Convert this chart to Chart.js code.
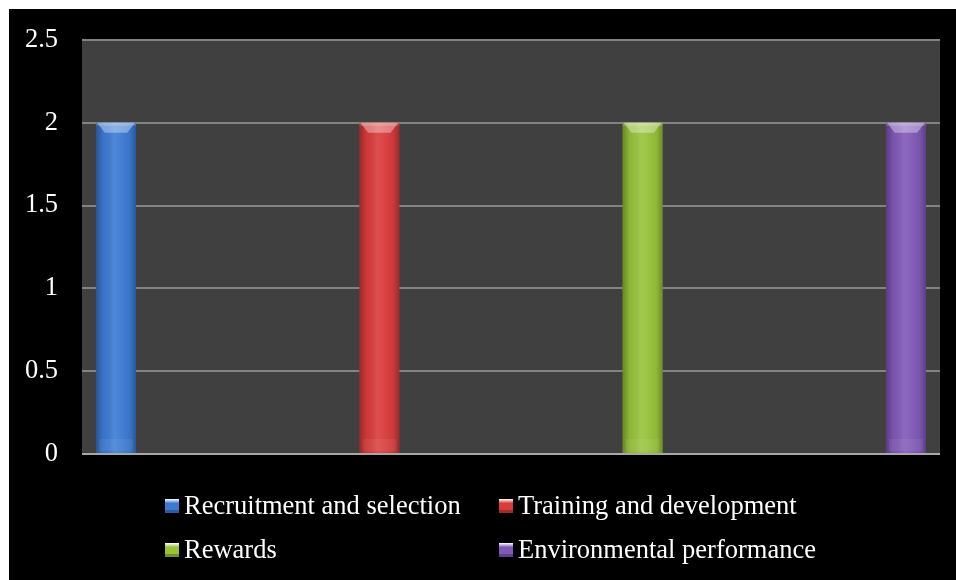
<!DOCTYPE html>
<html>
<head>
<meta charset="utf-8">
<script src="https://cdn.jsdelivr.net/npm/chart.js@4/dist/chart.umd.min.js"></script>
<style>
  html, body { margin: 0; padding: 0; background: #fff; }
  #wrap { width: 956px; height: 580px; }
</style>
</head>
<body>
<div id="wrap"><canvas id="myChart" width="956" height="580"></canvas></div>
<script>
// chart data
var categories = ['Recruitment and selection', 'Training and development', 'Rewards', 'Environmental performance'];
var values = [2, 2, 2, 2];
var yTicks = [0, 0.5, 1, 1.5, 2, 2.5];

var colors = ['#3b7ad3', '#d93b3b', '#97c23a', '#8058b6'];
var fontFamily = "'Liberation Serif', 'Times New Roman', serif";

// each series only has its own slot filled, the rest stay empty
var datasets = categories.map(function (name, i) {
    return {
        label: name,
        data: categories.map(function (c, j) { return j === i ? values[i] : null; }),
        backgroundColor: colors[i],
        borderWidth: 0
    };
});

// black frame with a thin white edge on top and left, grey plot area
var background = {
    id: 'background',
    beforeDraw: function (chart) {
        var c = chart.ctx, a = chart.chartArea;
        c.save();
        c.fillStyle = '#ffffff';
        c.fillRect(0, 0, chart.width, chart.height);
        c.fillStyle = '#000000';
        c.fillRect(9, 9, chart.width - 9, chart.height - 9);
        c.fillStyle = '#404040';
        c.fillRect(a.left, a.top, a.right - a.left, a.bottom - a.top);
        c.restore();
    }
};

// give the bars a rounded, glossy look
var shading = {
    id: 'shading',
    afterDatasetsDraw: function (chart) {
        var c = chart.ctx;
        chart.data.datasets.forEach(function (ds, i) {
            chart.getDatasetMeta(i).data.forEach(function (el, j) {
                if (ds.data[j] == null) return;
                var p = el.getProps(['x', 'y', 'base', 'width'], true);
                var left = p.x - p.width / 2, right = p.x + p.width / 2;
                c.save();
                var g = c.createLinearGradient(left, 0, right, 0);
                g.addColorStop(0, 'rgba(0,0,0,0.30)');
                g.addColorStop(0.18, 'rgba(0,0,0,0.05)');
                g.addColorStop(0.45, 'rgba(255,255,255,0.10)');
                g.addColorStop(0.6, 'rgba(255,255,255,0.06)');
                g.addColorStop(0.85, 'rgba(0,0,0,0.06)');
                g.addColorStop(1, 'rgba(0,0,0,0.28)');
                c.fillStyle = g;
                c.fillRect(left, p.y, p.width, p.base - p.y);
                // top cap
                c.fillStyle = 'rgba(255,255,255,0.35)';
                c.beginPath();
                c.moveTo(left + 1, p.y);
                c.lineTo(right - 1, p.y);
                c.lineTo(right - p.width * 0.22, p.y + 10);
                c.lineTo(left + p.width * 0.22, p.y + 10);
                c.closePath();
                c.fill();
                c.fillStyle = 'rgba(255,255,255,0.18)';
                c.fillRect(left, p.y, p.width, 3);
                // faint base band
                c.fillStyle = 'rgba(255,255,255,0.06)';
                c.fillRect(left + 3, p.base - 14, p.width - 6, 12);
                c.restore();
            });
        });
    }
};

// legend laid out as two columns like the original
var gridLegend = {
    id: 'gridLegend',
    afterDraw: function (chart) {
        var c = chart.ctx;
        var cols = [165, 499], rows = [506, 550];
        c.save();
        c.font = '26.5px ' + fontFamily;
        c.textBaseline = 'middle';
        c.textAlign = 'left';
        chart.data.datasets.forEach(function (ds, i) {
            var x = cols[i % 2], y = rows[Math.floor(i / 2)];
            var g = c.createLinearGradient(x, y - 7, x, y + 7);
            g.addColorStop(0, '#ffffff');
            g.addColorStop(0.3, ds.backgroundColor);
            g.addColorStop(1, ds.backgroundColor);
            c.fillStyle = g;
            c.fillRect(x, y - 7, 14, 14);
            c.fillStyle = 'rgba(0,0,0,0.25)';
            c.fillRect(x, y + 4, 14, 3);
            c.fillStyle = '#ffffff';
            c.fillText(ds.label, x + 19, y + 1);
        });
        c.restore();
    }
};

var ctx = document.getElementById('myChart').getContext('2d');
var chart = new Chart(ctx, {
    type: 'bar',
    data: {
        labels: categories,
        datasets: datasets
    },
    options: {
        responsive: false,
        animation: false,
        categoryPercentage: 0.91,
        barPercentage: 0.82,
        layout: { padding: { left: 9, top: 38, right: 16, bottom: 126 } },
        plugins: {
            legend: { display: false },
            tooltip: { enabled: false }
        },
        scales: {
            x: { display: false },
            y: {
                min: yTicks[0],
                max: yTicks[yTicks.length - 1],
                afterFit: function (scale) { scale.width = 73; },
                border: { display: false },
                grid: {
                    drawTicks: false,
                    lineWidth: 2,
                    color: function (c) { return c.tick && c.tick.value === 0 ? '#a8a8a8' : '#838383'; }
                },
                ticks: {
                    stepSize: yTicks[1] - yTicks[0],
                    color: '#ffffff',
                    padding: 24,
                    font: { family: fontFamily, size: 26.5 },
                    callback: function (v) { return String(v); }
                }
            }
        }
    },
    plugins: [background, shading, gridLegend]
});
</script>
</body>
</html>
